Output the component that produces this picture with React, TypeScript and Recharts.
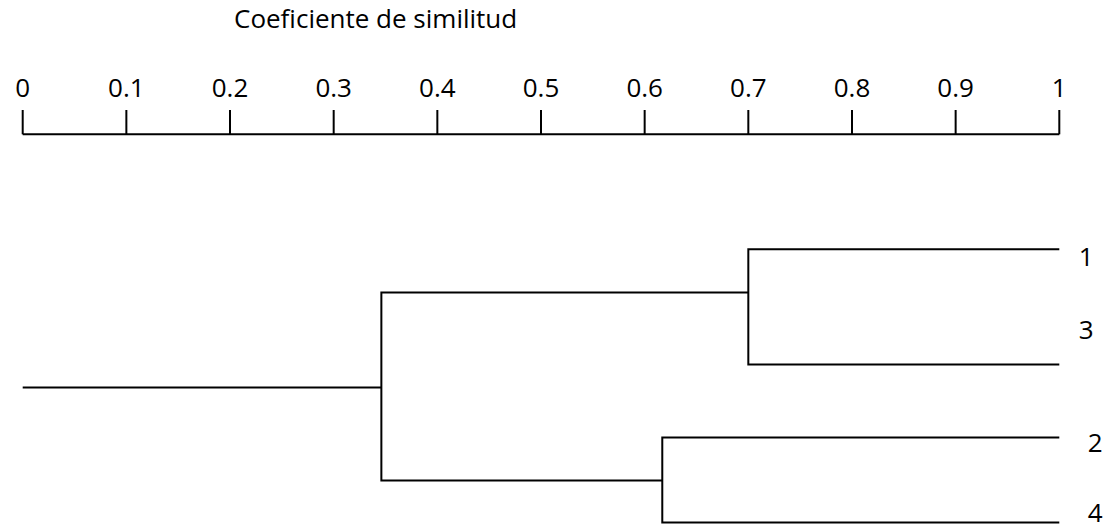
import { ComposedChart, Scatter, XAxis, YAxis, LabelList } from 'recharts'

// similarity scale (top axis)
const scaleTicks = [0, 0.1, 0.2, 0.3, 0.4, 0.5, 0.6, 0.7, 0.8, 0.9, 1]

// leaves, top to bottom; row = vertical slot (0 = scale line)
const leafNames = ['1', '3', '2', '4']
const leafRows = [1.15, 2.3, 3.03, 3.88]
const leafLabelRows = [1.226, 1.956, 3.085, 3.785]

// merge levels
const merge13 = 0.7
const merge24 = 0.617
const mergeRoot = 0.346
const rows13 = 1.58
const rows24 = 3.46
const rowRoot = 2.53

const branch13 = [
  { x: 1, y: leafRows[0] },
  { x: merge13, y: leafRows[0] },
  { x: merge13, y: leafRows[1] },
  { x: 1, y: leafRows[1] },
]
const branch24 = [
  { x: 1, y: leafRows[2] },
  { x: merge24, y: leafRows[2] },
  { x: merge24, y: leafRows[3] },
  { x: 1, y: leafRows[3] },
]
const branchRoot = [
  { x: merge13, y: rows13 },
  { x: mergeRoot, y: rows13 },
  { x: mergeRoot, y: rows24 },
  { x: merge24, y: rows24 },
]
const stem = [
  { x: 0, y: rowRoot },
  { x: mergeRoot, y: rowRoot },
]
const leafLabels = leafNames.map((name, i) => ({ x: 1, y: leafLabelRows[i], name }))

const FONT = '"Open Sans", sans-serif'
const lineStyle = { stroke: '#000', strokeWidth: 2 }

function LeafLabel(props: any) {
  const { x, y, width, height, value, index } = props
  const cx = x + (width || 0) / 2
  const cy = y + (height || 0) / 2
  const shift = index >= 2 ? 9 : 0
  return (
    <text x={cx + 27 + shift} y={cy + 9} textAnchor="middle" fontFamily={FONT} fontSize={26} fill="#000">
      {value}
    </text>
  )
}

const noDot = () => <g />

export default function App() {
  return (
    <div style={{ position: 'absolute', left: 0, top: 0, width: 1108, height: 524, background: '#fff' }}>
      <div
        style={{
          position: 'absolute',
          left: 234,
          top: 0,
          fontFamily: FONT,
          fontSize: 26,
          lineHeight: 'normal',
          color: '#000',
          whiteSpace: 'nowrap',
        }}
      >
        Coeficiente de similitud
      </div>
      <ComposedChart width={1108} height={524} margin={{ top: 74.3, right: 48.7, bottom: 1.5, left: 22.7 }}>
        <XAxis
          type="number"
          dataKey="x"
          orientation="top"
          domain={[0, 1]}
          ticks={scaleTicks}
          interval={0}
          height={60}
          tickSize={24.3}
          tickMargin={12.7}
          axisLine={lineStyle}
          tickLine={lineStyle}
          tick={{ fill: '#000', fontSize: 26, fontFamily: FONT }}
        />
        <YAxis type="number" dataKey="y" domain={[0, 3.88]} reversed hide />
        <Scatter data={branch13} line={lineStyle} shape={noDot} isAnimationActive={false} />
        <Scatter data={branch24} line={lineStyle} shape={noDot} isAnimationActive={false} />
        <Scatter data={branchRoot} line={lineStyle} shape={noDot} isAnimationActive={false} />
        <Scatter data={stem} line={lineStyle} shape={noDot} isAnimationActive={false} />
        <Scatter data={leafLabels} shape={noDot} isAnimationActive={false}>
          <LabelList dataKey="name" content={<LeafLabel />} />
        </Scatter>
      </ComposedChart>
    </div>
  )
}
